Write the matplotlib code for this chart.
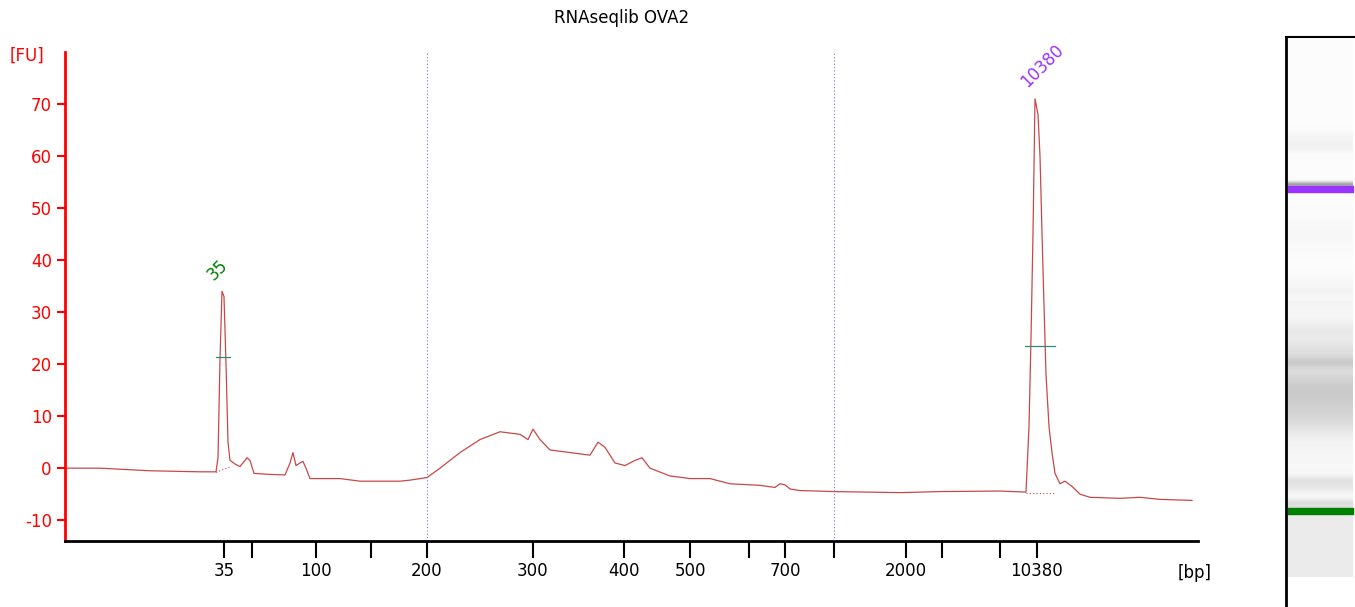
import numpy as np
import matplotlib.pyplot as plt

plt.rcParams['axes.unicode_minus'] = False

# electropherogram trace: migration position (screen units) vs fluorescence
traceX = [65, 100, 150, 200, 216, 218, 220, 222, 224, 226, 228, 230, 235, 240, 247, 250, 254, 270, 285,
          290, 293, 296, 300, 303, 306, 310, 340, 360, 400, 410, 427, 440, 460, 480, 500, 520, 528, 533,
          540, 550, 570, 590, 598, 605, 615, 625, 635, 642, 650, 670, 690, 710, 730, 760, 775, 780, 785,
          790, 800, 834, 900, 940, 1000, 1026, 1029, 1031, 1033, 1035, 1038, 1040, 1043, 1046, 1049,
          1052, 1055, 1060, 1065, 1072, 1080, 1090, 1120, 1140, 1160, 1192]
traceFU = [0, 0, -0.5, -0.7, -0.7, 2, 21, 34, 33, 20, 5, 1.5, 0.8, 0.3, 2, 1.5, -1, -1.2, -1.3,
           1, 3, 0.5, 1, 1.3, 0, -2, -2, -2.5, -2.5, -2.3, -1.8, 0, 3, 5.5, 7, 6.5, 5.5, 7.5,
           5.5, 3.5, 3, 2.5, 5, 4, 1, 0.5, 1.5, 2, 0, -1.5, -2, -2, -3, -3.3, -3.7, -3, -3.2,
           -4, -4.3, -4.5, -4.7, -4.5, -4.4, -4.6, 8, 25, 45, 71, 68, 60, 38, 18, 8,
           3, -1, -3, -2.5, -3.5, -5, -5.6, -5.8, -5.6, -6, -6.2]

tickPos = [224, 252, 316, 371, 427, 533, 624, 690, 749, 785, 834, 906, 942, 1000, 1037]
tickLabels = ['35', '', '100', '', '200', '300', '400', '500', '', '700', '', '2000', '', '', '10380']

peakPos = [223, 1036]
peakHeight = [34, 71]
peakNames = ['35', '10380']
peakColors = ['green', '#9933ff']
halfHeight = [21.3, 23.5]
halfSpan = [(216, 230), (1025, 1055)]
baseSpan = [(216, 231, -0.8, 0.3), (1026, 1055, -4.8, -4.8)]

markerLines = [427, 834]

# gel lane bands: (row position, darkness, half width)
gelBands = [(137, 0.03, 4), (146, 0.04, 4), (184, 0.35, 2), (232, 0.02, 10),
            (290, 0.03, 8), (330, 0.05, 6), (350, 0.08, 8), (362, 0.10, 4), (390, 0.17, 18),
            (420, 0.07, 12), (480, 0.08, 3), (487, 0.06, 3), (503, 0.10, 3)]

fig = plt.figure(figsize=(13.55, 6.07), dpi=100)
W, H = 1355, 607
ax = fig.add_axes([65 / W, (H - 541) / H, (1198 - 65) / W, (541 - 52) / H])

ax.plot(traceX, traceFU, color='#c84848', lw=0.9)
for x in markerLines:
    ax.axvline(x, color='#7777cc', lw=0.8, ls=(0, (1, 2)))
for i in range(len(peakPos)):
    x0, x1, b0, b1 = baseSpan[i]
    ax.plot([x0, x1], [b0, b1], color='#c84848', lw=0.8, ls=(0, (1, 2)))
    ax.plot(halfSpan[i], [halfHeight[i]] * 2, color='#2e8b7a', lw=0.9)
    ax.text(peakPos[i] - 6, peakHeight[i] + 1.5, peakNames[i], color=peakColors[i], rotation=45,
            fontsize=12, ha='left', va='bottom', rotation_mode='anchor')

ax.set_xlim(65, 1198)
ax.set_ylim(-14, 80)
ax.set_yticks([-10, 0, 10, 20, 30, 40, 50, 60, 70])
ax.set_xticks(tickPos)
ax.set_xticklabels(tickLabels)
ax.tick_params(axis='y', colors='red', labelsize=12, length=6, width=1.5)
ax.tick_params(axis='x', colors='black', labelsize=12, length=12, width=1.5, pad=3, direction='out')
for s in ['top', 'right']:
    ax.spines[s].set_visible(False)
ax.spines['left'].set_color('red')
ax.spines['left'].set_linewidth(2)
ax.spines['bottom'].set_linewidth(2)

fig.text(27 / W, 1 - 56 / H, '[FU]', color='red', fontsize=12, ha='center', va='center')
fig.text(1195 / W, 1 - 573 / H, '[bp]', fontsize=12, ha='center', va='center')
fig.text(622 / W, 1 - 18 / H, 'RNAseqlib OVA2', fontsize=12, ha='center', va='center')

# gel lane
gax = fig.add_axes([1286 / W, 0, (W - 1286) / W, (H - 37) / H])
rows = np.arange(40, 577)
lane = np.full(len(rows), 0.985)
lane[rows > 300] = 0.965
lane[rows > 505] = 0.92
for pos, dark, hw in gelBands:
    lane -= dark * np.exp(-0.5 * ((rows - pos) / hw) ** 2)
img = np.tile(lane[:, None], (1, 10))
gax.imshow(img, cmap='gray', vmin=0, vmax=1, extent=[1288, 1353, 577, 40], aspect='auto')
gax.fill_between([1288, 1353], 186, 192, color='#9933ff')
gax.fill_between([1288, 1353], 508, 514, color='#008000')
gax.set_xlim(1286, W)
gax.set_ylim(H, 37)
gax.set_xticks([])
gax.set_yticks([])
for s in ['right', 'bottom']:
    gax.spines[s].set_visible(False)
gax.spines['left'].set_linewidth(2)
gax.spines['top'].set_linewidth(1.5)

fig.savefig('out.png', dpi=100)
